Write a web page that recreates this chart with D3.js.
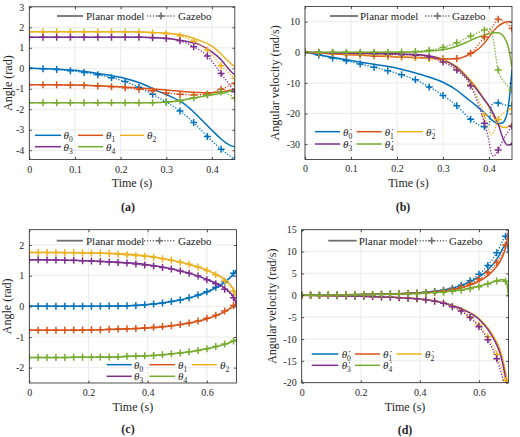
<!DOCTYPE html>
<html><head><meta charset="utf-8">
<script src="https://cdn.jsdelivr.net/npm/d3@7"></script>
<style>
body{margin:0;background:#fff}
svg{display:block}
text{font-family:"Liberation Serif","Times New Roman","DejaVu Serif",serif;fill:#262626}
</style>
</head><body>
<svg id="c" width="520" height="437"></svg>
<script>
// ---------- DATA ----------
const seriesColors = ["#0072BD","#D95319","#EDB120","#7E2F8E","#77AC30"];
const angleNames = ["θ0","θ1","θ2","θ3","θ4"];
const velNames = ["θ̇0","θ̇1","θ̇2","θ̇3","θ̇4"];

// Panel (a): angles, 0..0.45 s
const aModelT = [0,0.05,0.1,0.15,0.2,0.25,0.28,0.31,0.34,0.37,0.4,0.42,0.44,0.45];
const aModel0 = [0,-0.03,-0.1,-0.25,-0.44,-0.78,-1.1,-1.38,-1.75,-2.35,-3.02,-3.45,-3.76,-3.83];
const aModel1 = [-0.8,-0.8,-0.82,-0.85,-0.9,-0.97,-1.02,-1.08,-1.14,-1.18,-1.19,-1.15,-1.07,-1.03];
const aModel2 = [1.78,1.78,1.78,1.78,1.78,1.77,1.74,1.7,1.6,1.38,1.08,0.7,0.25,0.08];
const aModel3 = [1.52,1.52,1.52,1.52,1.52,1.51,1.49,1.44,1.33,1.18,0.8,0.42,-0.12,-0.32];
const aModel4 = [-1.68,-1.68,-1.68,-1.68,-1.68,-1.68,-1.67,-1.63,-1.53,-1.41,-1.3,-1.22,-1.11,-1.05];
const aGzT = [0,0.03,0.06,0.09,0.12,0.15,0.18,0.21,0.24,0.27,0.3,0.33,0.36,0.39,0.42,0.45];
const aGz0 = [0,-0.02,-0.06,-0.12,-0.2,-0.31,-0.46,-0.65,-0.93,-1.27,-1.65,-2.08,-2.65,-3.33,-3.95,-4.44];
const aGz1 = [-0.8,-0.8,-0.8,-0.81,-0.83,-0.86,-0.9,-0.95,-1.02,-1.1,-1.2,-1.27,-1.3,-1.25,-1.02,-0.73];
const aGz2 = [1.78,1.78,1.78,1.78,1.78,1.78,1.78,1.78,1.77,1.74,1.69,1.59,1.32,0.89,0.13,-0.49];
const aGz3 = [1.52,1.52,1.52,1.52,1.52,1.52,1.52,1.52,1.51,1.49,1.45,1.34,1.05,0.6,-0.26,-1.15];
const aGz4 = [-1.68,-1.68,-1.68,-1.68,-1.68,-1.68,-1.68,-1.68,-1.68,-1.68,-1.66,-1.6,-1.45,-1.3,-1.16,-1.46];

// Panel (b): angular velocities, 0..0.45 s
const bModelT = [0,0.05,0.1,0.15,0.2,0.25,0.3,0.33,0.35,0.37,0.39,0.4,0.41,0.42,0.43,0.435,0.44,0.445,0.45];
const bModel0 = [0,-1.4,-2.7,-3.9,-5.2,-7.2,-9.8,-12.4,-14.8,-17.2,-19.8,-21.2,-22.6,-23.3,-23.0,-22.0,-19.5,-14,-5.5];
const bModel1 = [0,-0.4,-0.8,-1.2,-1.5,-1.8,-2.2,-2.1,-1.2,0.3,3.0,5.0,7.0,8.5,9.5,9.8,10.0,10.0,9.7];
const bModel2 = [0,-0.2,-0.3,-0.45,-0.6,-0.9,-2.3,-4.7,-7.5,-11,-15.5,-18,-21,-23.5,-24.5,-24.6,-24.4,-24,-23.4];
const bModel3 = [0,-0.2,-0.3,-0.4,-0.5,-0.8,-2.5,-5,-8,-11.5,-15.5,-17.5,-20.2,-23.5,-28,-29.5,-30.3,-30.3,-29.5];
const bModel4 = [0,0,0,0,0.05,0.2,0.8,2.0,3.2,4.6,5.6,6.1,6.4,6.4,5.5,4.4,2.7,-0.5,-5.0];
const bGzT = [0,0.03,0.06,0.09,0.12,0.15,0.18,0.21,0.24,0.27,0.3,0.33,0.36,0.39,0.4,0.405,0.41,0.42,0.435,0.45];
const bGz0 = [0,-0.9,-1.9,-2.8,-3.8,-4.9,-6.0,-7.3,-9.0,-11.3,-14.1,-17.5,-21.9,-24.3,-23.8,-17.5,-16.5,-16.6,-17.2,-17.5];
const bGz1 = [0,-0.3,-0.5,-0.7,-0.9,-1.1,-1.3,-1.5,-1.7,-1.9,-2.1,-2.0,-0.3,5.0,6.8,7.8,8.9,10.8,9.8,7.8];
const bGz2 = [0,-0.2,-0.4,-0.6,-0.8,-1.0,-1.2,-1.5,-1.8,-2.0,-2.8,-5.5,-10.5,-20.5,-25.5,-27,-26,-22,-19.5,-18.5];
const bGz3 = [0,-0.1,-0.2,-0.3,-0.4,-0.5,-0.6,-0.8,-1.0,-1.5,-3.2,-5.8,-10.9,-23.2,-29,-33,-34,-31.9,-27.5,-24.2];
const bGz4 = [0,0,0,0,0,0,0,0.1,0.3,0.7,1.6,3.1,5.3,7.3,7.8,7.0,3.5,-5.8,-10,-12.2];

// Panel (c): angles, 0..0.7 s
const cModelT = [0,0.1,0.2,0.3,0.35,0.4,0.45,0.5,0.55,0.6,0.63,0.66,0.68,0.69,0.7];
const cModel0 = [0,0,0,0.01,0.03,0.06,0.11,0.19,0.3,0.47,0.6,0.78,0.95,1.05,1.18];
const cModel1 = [-0.78,-0.78,-0.77,-0.75,-0.73,-0.71,-0.67,-0.61,-0.53,-0.41,-0.31,-0.18,-0.06,0.01,0.1];
const cModel2 = [1.76,1.76,1.75,1.72,1.69,1.64,1.56,1.46,1.34,1.18,1.05,0.88,0.7,0.55,0.3];
const cModel3 = [1.52,1.51,1.49,1.44,1.41,1.36,1.28,1.18,1.05,0.88,0.76,0.6,0.43,0.3,0.08];
const cModel4 = [-1.67,-1.67,-1.66,-1.65,-1.63,-1.61,-1.58,-1.53,-1.47,-1.38,-1.32,-1.24,-1.17,-1.13,-1.08];
const cGzT = [0,0.03,0.06,0.09,0.12,0.15,0.18,0.21,0.24,0.27,0.3,0.33,0.36,0.39,0.42,0.45,0.48,0.51,0.54,0.57,0.6,0.63,0.66,0.69,0.7];
const cGz0 = [0,0,0,0,0,0,0,0,0,0.01,0.01,0.02,0.03,0.05,0.08,0.11,0.16,0.21,0.28,0.37,0.48,0.62,0.8,1.08,1.2];
const cGz1 = [-0.78,-0.78,-0.78,-0.78,-0.78,-0.77,-0.77,-0.76,-0.76,-0.75,-0.74,-0.73,-0.72,-0.7,-0.68,-0.66,-0.63,-0.59,-0.54,-0.48,-0.39,-0.29,-0.15,0.03,0.1];
const cGz2 = [1.76,1.76,1.76,1.76,1.75,1.75,1.74,1.74,1.73,1.72,1.7,1.68,1.66,1.63,1.6,1.55,1.5,1.44,1.37,1.28,1.17,1.03,0.83,0.5,0.35];
const cGz3 = [1.52,1.52,1.51,1.51,1.5,1.5,1.49,1.48,1.46,1.45,1.43,1.41,1.38,1.35,1.32,1.27,1.22,1.15,1.08,0.99,0.87,0.74,0.56,0.28,0.1];
const cGz4 = [-1.67,-1.67,-1.67,-1.67,-1.67,-1.66,-1.66,-1.66,-1.65,-1.65,-1.64,-1.63,-1.62,-1.61,-1.6,-1.58,-1.55,-1.52,-1.48,-1.44,-1.38,-1.31,-1.23,-1.13,-1.1];

// Panel (d): angular velocities, 0..0.7 s
const dModelT = [0,0.1,0.2,0.3,0.35,0.4,0.45,0.5,0.55,0.6,0.63,0.65,0.67,0.68,0.69,0.695,0.7];
const dModel0 = [0,0.05,0.15,0.3,0.4,0.6,0.9,1.5,2.5,4.2,5.8,7.3,9.3,10.6,11.8,12.2,9.5];
const dModel1 = [0,0.05,0.15,0.3,0.4,0.55,0.8,1.2,1.9,3.2,4.5,5.8,7.6,8.9,10.8,12.5,14.8];
const dModel2 = [0,-0.1,-0.25,-0.45,-0.6,-0.85,-1.3,-2.1,-3.3,-5.3,-7.5,-9.5,-12.3,-14.5,-17.5,-19.5,-22];
const dModel3 = [0,-0.1,-0.25,-0.45,-0.6,-0.85,-1.3,-2.1,-3.4,-5.5,-7.8,-10,-13,-15.5,-19,-21,-23];
const dModel4 = [0,0.05,0.15,0.3,0.4,0.55,0.75,1.0,1.4,2.1,2.7,3.1,3.5,3.6,3.3,2.5,-0.5];
const dGzT = [0,0.03,0.06,0.09,0.12,0.15,0.18,0.21,0.24,0.27,0.3,0.33,0.36,0.39,0.42,0.45,0.48,0.51,0.54,0.57,0.6,0.63,0.66,0.69,0.7];
const dGz0 = [0,0,0.02,0.05,0.08,0.1,0.13,0.17,0.2,0.25,0.3,0.36,0.43,0.52,0.65,0.85,1.15,1.6,2.3,3.3,4.8,6.8,9.7,13.5,14];
const dGz1 = [0,0,0.02,0.05,0.08,0.1,0.13,0.16,0.2,0.24,0.29,0.34,0.4,0.48,0.6,0.75,1.0,1.35,1.85,2.6,3.7,5.2,7.5,11.5,14.5];
const dGz2 = [0,-0.02,-0.05,-0.08,-0.12,-0.16,-0.2,-0.25,-0.3,-0.37,-0.45,-0.54,-0.65,-0.8,-1.0,-1.3,-1.8,-2.5,-3.5,-4.9,-6.8,-9.5,-13.5,-19.5,-22];
const dGz3 = [0,-0.02,-0.05,-0.08,-0.12,-0.16,-0.2,-0.25,-0.3,-0.37,-0.45,-0.54,-0.66,-0.82,-1.03,-1.35,-1.85,-2.6,-3.6,-5.1,-7.2,-10.2,-14.5,-21,-23];
const dGz4 = [0,0,0.02,0.04,0.06,0.08,0.1,0.12,0.15,0.18,0.22,0.26,0.3,0.36,0.45,0.55,0.7,0.9,1.15,1.5,1.95,2.55,3.25,3.2,1.8];

// Tick values
const xTicksAB = [0,0.1,0.2,0.3,0.4];
const xTicksCD = [0,0.2,0.4,0.6];
const yTicksA = [-4,-3,-2,-1,0,1,2,3];
const yTicksB = [-30,-20,-10,0,10];
const yTicksC = [-2,-1,0,1,2];
const yTicksD = [-20,-15,-10,-5,0,5,10,15];

// ---------- DRAWING ----------
const svg = d3.select("#c");
const axisColor = "#262626";
const fontFam = '"Liberation Serif","Times New Roman","DejaVu Serif",serif';

function symbolLabel(sel, name, x, y) {
  const base = name.slice(0, name.length - 1);
  const sub = name.slice(-1);
  const t = sel.append("text").attr("x", x).attr("y", y).attr("dy","0.35em")
    .style("font-size","11px");
  t.append("tspan").style("font-style","italic").text(base);
  t.append("tspan").attr("dy","3").style("font-size","7.5px").text(sub);
}

function panel(p) {
  const g = svg.append("g");
  const x = d3.scaleLinear().domain(p.xDomain).range([p.L, p.R]);
  const y = d3.scaleLinear().domain(p.yDomain).range([p.B, p.T]);

  g.append("g").selectAll("line").data(p.xTicks).join("line")
    .attr("x1", d => x(d)).attr("x2", d => x(d)).attr("y1", p.T).attr("y2", p.B)
    .attr("stroke", "#e6e6e6").attr("stroke-width", 0.8);
  g.append("g").selectAll("line").data(p.yTicks).join("line")
    .attr("y1", d => y(d)).attr("y2", d => y(d)).attr("x1", p.L).attr("x2", p.R)
    .attr("stroke", "#e6e6e6").attr("stroke-width", 0.8);

  const clipId = "clip" + p.id;
  svg.append("clipPath").attr("id", clipId).append("rect")
    .attr("x", p.L).attr("y", p.T).attr("width", p.R - p.L).attr("height", p.B - p.T);
  const plot = g.append("g").attr("clip-path", `url(#${clipId})`);

  const line = d3.line().x(d => x(d[0])).y(d => y(d[1])).curve(d3.curveMonotoneX);

  p.model.forEach((vals, i) => {
    plot.append("path").datum(p.modelT.map((t, j) => [t, vals[j]]))
      .attr("d", line).attr("fill", "none")
      .attr("stroke", seriesColors[i]).attr("stroke-width", 1.5);
  });
  p.gz.forEach((vals, i) => {
    const pts = p.gzT.map((t, j) => [t, vals[j]]);
    plot.append("path").datum(pts)
      .attr("d", line).attr("fill", "none")
      .attr("stroke", seriesColors[i]).attr("stroke-width", 1.3)
      .attr("stroke-dasharray", "1.3,1.6");
    const mk = pts.filter(d => Math.abs(d[0] / 0.03 - Math.round(d[0] / 0.03)) < 1e-6);
    const mg = plot.append("g").attr("stroke", seriesColors[i]).attr("stroke-width", 1.5);
    mk.forEach(d => {
      const cx = x(d[0]), cy = y(d[1]), s = 3.5;
      mg.append("line").attr("x1", cx - s).attr("x2", cx + s).attr("y1", cy).attr("y2", cy);
      mg.append("line").attr("x1", cx).attr("x2", cx).attr("y1", cy - s).attr("y2", cy + s);
    });
  });

  const fmt = d => String(d);
  const ax = g.append("g").attr("transform", `translate(0,${p.B})`)
    .call(d3.axisBottom(x).tickValues(p.xTicks).tickFormat(fmt).tickSizeInner(-2.5).tickSizeOuter(0).tickPadding(6));
  const ay = g.append("g").attr("transform", `translate(${p.L},0)`)
    .call(d3.axisLeft(y).tickValues(p.yTicks).tickFormat(fmt).tickSizeInner(-2.5).tickSizeOuter(0).tickPadding(5));
  const at = g.append("g").attr("transform", `translate(0,${p.T})`)
    .call(d3.axisTop(x).tickValues(p.xTicks).tickFormat("").tickSizeInner(-2.5).tickSizeOuter(0));
  const ar = g.append("g").attr("transform", `translate(${p.R},0)`)
    .call(d3.axisRight(y).tickValues(p.yTicks).tickFormat("").tickSizeInner(-2.5).tickSizeOuter(0));
  [ax, ay, at, ar].forEach(a => {
    a.attr("font-family", null).attr("font-size", null);
    a.select(".domain").remove();
    a.selectAll("line").attr("stroke", axisColor).attr("stroke-width", 0.8);
    a.selectAll("text").attr("fill", axisColor).style("font-size", "10px")
      .style("font-family", fontFam);
  });
  g.append("rect").attr("x", p.L).attr("y", p.T).attr("width", p.R - p.L).attr("height", p.B - p.T)
    .attr("fill", "none").attr("stroke", axisColor).attr("stroke-width", 0.8);

  g.append("text").attr("x", (p.L + p.R) / 2).attr("y", p.xLabelY).attr("dy", "0.35em")
    .attr("text-anchor", "middle").style("font-size", "12px").text("Time (s)");
  g.append("text").attr("transform", `translate(${p.yLabelX},${(p.T + p.B) / 2}) rotate(-90)`)
    .attr("dy", "0.35em").attr("text-anchor", "middle").style("font-size", "12px").text(p.yLabel);
  g.append("text").attr("x", p.capX).attr("y", p.capY).attr("dy", "0.35em")
    .attr("text-anchor", "middle").style("font-size", "12px").style("font-weight", "bold").text(p.caption);

  const tl = p.topLeg;
  g.append("line").attr("x1", tl.x1).attr("x2", tl.x2).attr("y1", tl.y).attr("y2", tl.y)
    .attr("stroke", "#707070").attr("stroke-width", 1.8);
  g.append("text").attr("x", tl.t1).attr("y", tl.y).attr("dy", "0.35em").style("font-size", "11px").text("Planar model");
  g.append("line").attr("x1", tl.x3).attr("x2", tl.x4).attr("y1", tl.y).attr("y2", tl.y)
    .attr("stroke", "#707070").attr("stroke-width", 1.5).attr("stroke-dasharray", "1.3,1.6");
  const mx = (tl.x3 + tl.x4) / 2;
  g.append("line").attr("x1", mx - 3.5).attr("x2", mx + 3.5).attr("y1", tl.y).attr("y2", tl.y).attr("stroke", "#707070").attr("stroke-width", 1.6);
  g.append("line").attr("x1", mx).attr("x2", mx).attr("y1", tl.y - 3.5).attr("y2", tl.y + 3.5).attr("stroke", "#707070").attr("stroke-width", 1.6);
  g.append("text").attr("x", tl.t2).attr("y", tl.y).attr("dy", "0.35em").style("font-size", "11px").text("Gazebo");

  const sl = p.serLeg;
  p.names.forEach((nm, i) => {
    const row = Math.floor(i / 3), col = i % 3;
    const yy = sl.rows[row];
    g.append("line").attr("x1", sl.x1[col]).attr("x2", sl.x2[col]).attr("y1", yy).attr("y2", yy)
      .attr("stroke", seriesColors[i]).attr("stroke-width", 1.5);
    symbolLabel(g, nm, sl.tx[col], yy);
  });
}

panel({
  id: "a", L: 29.3, R: 234.8, T: 6.8, B: 159.5, xDomain: [0, 0.45], yDomain: [-4.45, 3],
  xTicks: xTicksAB, yTicks: yTicksA,
  modelT: aModelT, model: [aModel0, aModel1, aModel2, aModel3, aModel4],
  gzT: aGzT, gz: [aGz0, aGz1, aGz2, aGz3, aGz4],
  xLabelY: 183, yLabel: "Angle (rad)", yLabelX: 8, caption: "(a)", capX: 128, capY: 207,
  topLeg: { y: 16, x1: 57, x2: 83, t1: 86, x3: 147, x4: 175, t2: 178 },
  serLeg: { rows: [135.3, 146.7], x1: [35, 78, 120], x2: [61, 103, 144], tx: [63.5, 106, 147] },
  names: angleNames
});
panel({
  id: "b", L: 305, R: 512, T: 6.4, B: 159.4, xDomain: [0, 0.45], yDomain: [-35, 15],
  xTicks: xTicksAB, yTicks: yTicksB,
  modelT: bModelT, model: [bModel0, bModel1, bModel2, bModel3, bModel4],
  gzT: bGzT, gz: [bGz0, bGz1, bGz2, bGz3, bGz4],
  xLabelY: 183, yLabel: "Angular velocity (rad/s)", yLabelX: 275, caption: "(b)", capX: 403, capY: 207,
  topLeg: { y: 16, x1: 330, x2: 358, t1: 360, x3: 425, x4: 450, t2: 452 },
  serLeg: { rows: [131.7, 144], x1: [315, 356.7, 397], x2: [340, 381.7, 423], tx: [343, 384.7, 426] },
  names: velNames
});
panel({
  id: "c", L: 29.3, R: 236.5, T: 229.7, B: 383, xDomain: [0, 0.7], yDomain: [-2.5, 2.5],
  xTicks: xTicksCD, yTicks: yTicksC,
  modelT: cModelT, model: [cModel0, cModel1, cModel2, cModel3, cModel4],
  gzT: cGzT, gz: [cGz0, cGz1, cGz2, cGz3, cGz4],
  xLabelY: 406.7, yLabel: "Angle (rad)", yLabelX: 7, caption: "(c)", capX: 128, capY: 429,
  topLeg: { y: 240.7, x1: 56.7, x2: 83, t1: 86, x3: 144, x4: 175, t2: 178 },
  serLeg: { rows: [364.7, 376.3], x1: [106.7, 149.3, 191.7], x2: [131.7, 175, 216.7], tx: [134, 178, 220] },
  names: angleNames
});
panel({
  id: "d", L: 301.7, R: 508.5, T: 229.7, B: 382.7, xDomain: [0, 0.7], yDomain: [-20, 15],
  xTicks: xTicksCD, yTicks: yTicksD,
  modelT: dModelT, model: [dModel0, dModel1, dModel2, dModel3, dModel4],
  gzT: dGzT, gz: [dGz0, dGz1, dGz2, dGz3, dGz4],
  xLabelY: 406.7, yLabel: "Angular velocity (rad/s)", yLabelX: 272, caption: "(d)", capX: 405, capY: 430,
  topLeg: { y: 240.7, x1: 328.3, x2: 356.7, t1: 358.7, x3: 416.7, x4: 446.7, t2: 449 },
  serLeg: { rows: [354, 365.3], x1: [311.7, 355, 396.7], x2: [338.3, 380, 421.7], tx: [341.7, 383, 425] },
  names: velNames
});
</script>
</body></html>
